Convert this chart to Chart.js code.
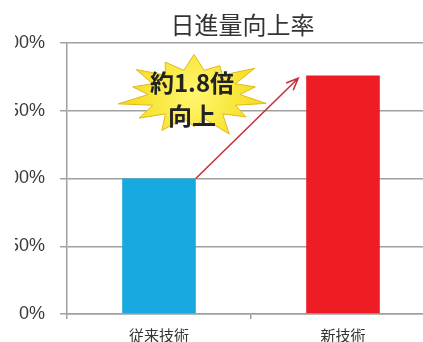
<!DOCTYPE html>
<html>
<head>
<meta charset="utf-8">
<script src="https://cdn.jsdelivr.net/npm/chart.js@4"></script>
<style>
  html, body { margin: 0; padding: 0; background: #fff; overflow: hidden; }
  #wrap { position: absolute; left: -30px; top: 0; width: 470px; height: 342px; }
</style>
</head>
<body>
<div id="wrap"><canvas id="c"></canvas></div>
<script>
const categories = ["従来技術", "新技術"];
const values = [100, 176];
const barColors = ["#19a9e1", "#ee1c25"];
const yTicks = [0, 50, 100, 150, 200];
const titleText = "日進量向上率";
const calloutLines = ["約1.8倍", "向上"];

const jp = '"Noto Sans CJK JP", "Noto Sans", sans-serif';

const overlay = {
  id: "overlay",
  afterDraw(chart) {
    const ctx = chart.ctx;
    const x = chart.scales.x;
    const y = chart.scales.y;
    const bars = chart.getDatasetMeta(0).data;
    const area = chart.chartArea;

    // the source picture is cropped at the left, cutting the tick labels
    ctx.save();
    ctx.fillStyle = "#fff";
    ctx.fillRect(0, 0, 45, chart.height);
    ctx.restore();

    // title
    ctx.save();
    ctx.fillStyle = "#333";
    ctx.font = "24px " + jp;
    ctx.textAlign = "center";
    ctx.textBaseline = "middle";
    ctx.fillText(titleText, area.left + area.width * 0.477, 25);
    ctx.restore();

    // arrow from old bar to new bar
    const sx = bars[0].x + bars[0].width / 2;
    const sy = y.getPixelForValue(values[0]);
    const ex = bars[1].x - bars[1].width / 2 - 8;
    const ey = y.getPixelForValue(values[1] - 2);
    ctx.save();
    ctx.strokeStyle = "#c8303c";
    ctx.lineWidth = 1.6;
    ctx.beginPath();
    ctx.moveTo(sx, sy);
    ctx.lineTo(ex, ey);
    const ang = Math.atan2(ey - sy, ex - sx);
    ctx.moveTo(ex - 13 * Math.cos(ang - 0.4), ey - 13 * Math.sin(ang - 0.4));
    ctx.lineTo(ex, ey);
    ctx.lineTo(ex - 13 * Math.cos(ang + 0.4), ey - 13 * Math.sin(ang + 0.4));
    ctx.stroke();
    ctx.restore();

    // starburst
    const cx = x.getPixelForValue(0) + 35;
    const cy = y.getPixelForValue(162);
    const spikes = [1, 0.8, 1.05, 0.85, 1, 0.9, 1.1, 0.8, 1, 0.95, 1.05, 0.85, 1, 0.9];
    const n = spikes.length;
    ctx.save();
    ctx.beginPath();
    for (let i = 0; i < n * 2; i++) {
      const a = -Math.PI / 2 + (i * Math.PI) / n;
      const r = i % 2 === 0 ? spikes[i / 2] : 0.62;
      const px = cx + Math.cos(a) * 74 * r;
      const py = cy + Math.sin(a) * 40 * r;
      if (i === 0) ctx.moveTo(px, py);
      else ctx.lineTo(px, py);
    }
    ctx.closePath();
    const g = ctx.createRadialGradient(cx, cy, 5, cx, cy, 70);
    g.addColorStop(0, "#fff46a");
    g.addColorStop(1, "#f3dc1a");
    ctx.fillStyle = g;
    ctx.fill();
    ctx.strokeStyle = "#e2b71c";
    ctx.lineWidth = 1;
    ctx.stroke();

    ctx.fillStyle = "#222";
    ctx.font = "bold 24px " + jp;
    ctx.textAlign = "center";
    ctx.textBaseline = "middle";
    ctx.fillText(calloutLines[0], cx - 2, cy - 12);
    ctx.fillText(calloutLines[1], cx - 2, cy + 21);
    ctx.restore();
  },
};

new Chart(document.getElementById("c"), {
  type: "bar",
  data: {
    labels: categories,
    datasets: [
      {
        data: values,
        backgroundColor: barColors,
        borderWidth: 0,
        barPercentage: 0.4,
        categoryPercentage: 1,
      },
    ],
  },
  options: {
    responsive: true,
    maintainAspectRatio: false,
    animation: false,
    layout: { padding: { top: 43, right: 5, left: 0, bottom: 0 } },
    plugins: {
      legend: { display: false },
      tooltip: { enabled: false },
    },
    scales: {
      x: {
        grid: {
          offset: true,
          drawOnChartArea: false,
          tickLength: 5,
          color: "#a0a0a0",
          lineWidth: 1.5,
        },
        border: { display: true, color: "#a0a0a0", width: 1.5 },
        ticks: {
          color: "#333",
          font: { family: jp, size: 15 },
          padding: 7,
        },
        afterFit(scale) {
          scale.height = 28;
        },
      },
      y: {
        min: 0,
        max: 200,
        afterBuildTicks(scale) {
          scale.ticks = yTicks.map((v) => ({ value: v }));
        },
        grid: {
          color: "#a0a0a0",
          lineWidth: 1.5,
          tickLength: 7,
        },
        border: { display: true, color: "#a0a0a0", width: 1.5 },
        ticks: {
          color: "#3a3a3a",
          font: { family: "Liberation Sans, Arial, sans-serif", size: 18 },
          padding: 15,
          callback: (v) => v + "%",
        },
        afterFit(scale) {
          scale.width = 97;
        },
      },
    },
  },
  plugins: [overlay],
});
</script>
</body>
</html>
